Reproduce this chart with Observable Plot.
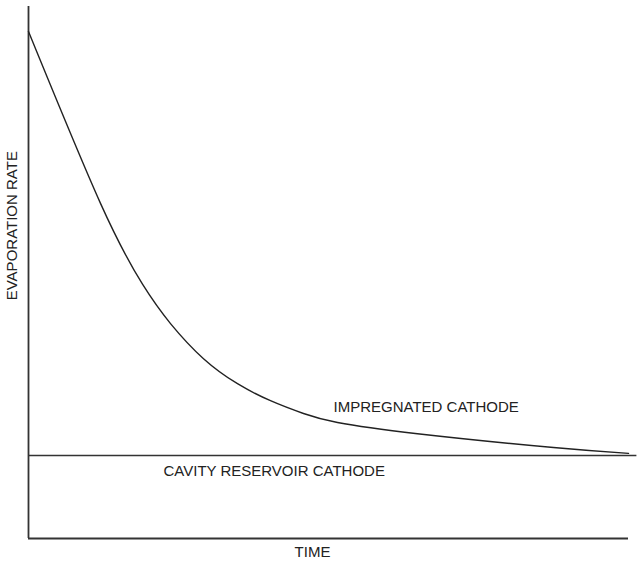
<!DOCTYPE html>
<html>
<head>
<meta charset="utf-8">
<script src="https://cdn.jsdelivr.net/npm/d3@7"></script>
<script src="https://cdn.jsdelivr.net/npm/@observablehq/plot@0.6"></script>
<style>
  html, body { margin: 0; padding: 0; background: #fff; }
  svg { display: block; }
</style>
</head>
<body>
<div id="chart"></div>
<script>
// Time (arbitrary units, 0–100)
const time = [0, 12, 19, 23.67, 29.17, 34.83, 40.33, 45.83, 51.5, 64.83, 87.5, 100];
// Impregnated cathode evaporation rate (arbitrary units, 0–100)
const impregnated = [95.3, 63.0, 47.8, 40.4, 33.8, 29.1, 25.9, 23.5, 21.8, 19.7, 17.1, 16.0];
// Cavity reservoir cathode: constant rate
const cavityRate = 15.6;

const labels = [
  {text: "IMPREGNATED CATHODE", x: 50.83, y: 24.6, anchor: "start", rotate: 0},
  {text: "CAVITY RESERVOIR CATHODE", x: 22.5, y: 12.6, anchor: "start", rotate: 0},
  {text: "TIME", x: 47.33, y: -2.63, anchor: "middle", rotate: 0},
  {text: "EVAPORATION RATE", x: -2.67, y: 58.8, anchor: "middle", rotate: -90}
];

const curve = time.map((t, i) => ({t, r: impregnated[i]}));

const chart = Plot.plot({
  width: 638,
  height: 564,
  marginLeft: 28,
  marginRight: 10,
  marginTop: 6,
  marginBottom: 26,
  x: {domain: [0, 100], axis: null},
  y: {domain: [0, 100], axis: null},
  style: {fontFamily: "Liberation Sans, Arial, sans-serif", background: "#fff"},
  marks: [
    Plot.ruleX([0], {stroke: "#333", strokeWidth: 1.8}),
    Plot.ruleY([0], {stroke: "#333", strokeWidth: 1.8}),
    Plot.ruleY([cavityRate], {x1: 0, x2: 101.4, stroke: "#333", strokeWidth: 1.4}),
    Plot.line(curve, {x: "t", y: "r", curve: "natural", stroke: "#222", strokeWidth: 1.4}),
    ...labels.map(l => Plot.text([l], {
      x: "x", y: "y", text: "text", textAnchor: l.anchor, rotate: l.rotate,
      fontSize: 15, fill: "#222", lineAnchor: "middle"
    }))
  ]
});
document.getElementById("chart").appendChild(chart);
</script>
</body>
</html>
